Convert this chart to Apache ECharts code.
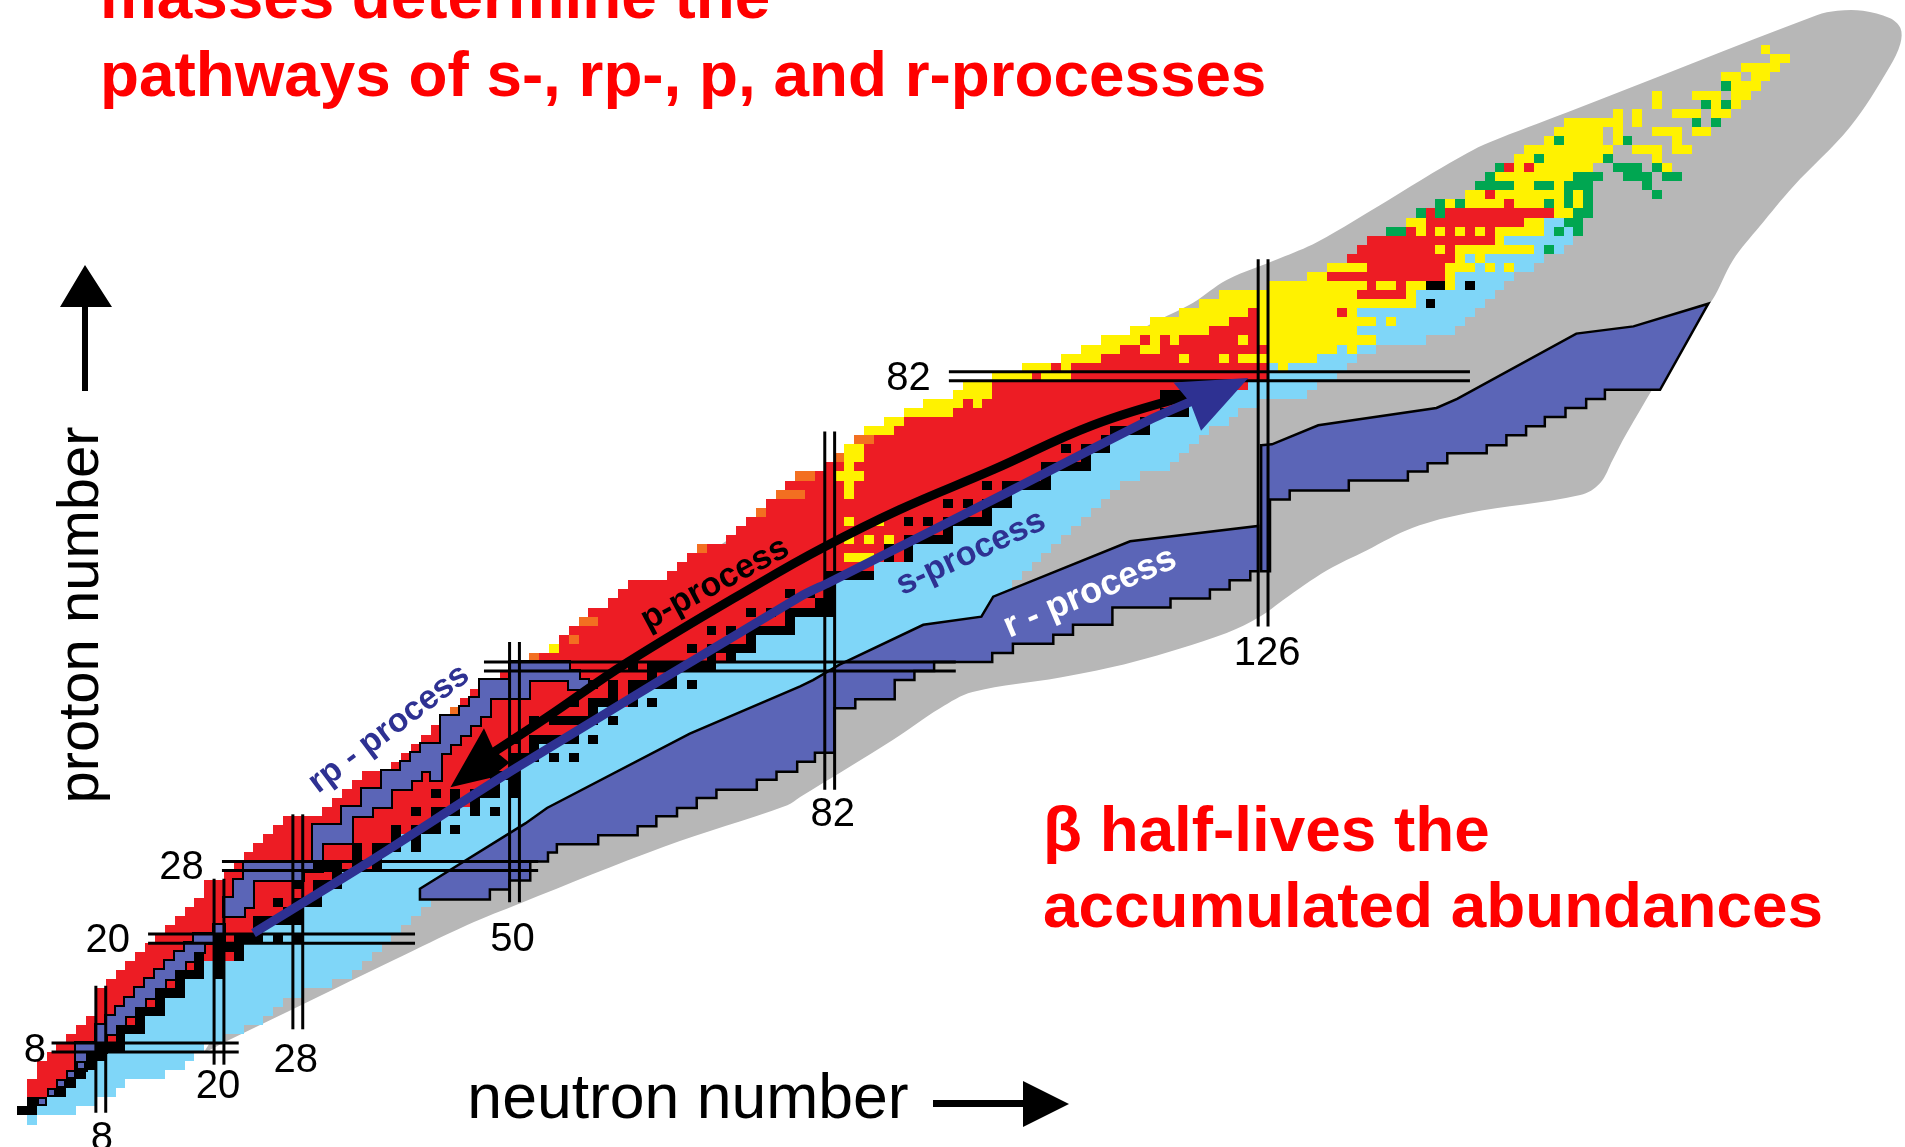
<!DOCTYPE html>
<html>
<head>
<meta charset="utf-8">
<script src="https://cdn.jsdelivr.net/npm/echarts@6/dist/echarts.min.js"></script>
<style>html,body{margin:0;padding:0;background:#fff;overflow:hidden}#c{width:1905px;height:1147px}</style>
</head>
<body>
<div id="c"></div>
<script>
// ---------- nuclide-chart data: every row is [Z, firstN, lastN] ----------
const redLeft = [null,null,null,1,1,2,2,3,4,5,
 6,7,8,8,8,9,10,11,12,13,
 14,15,16,17,18,19,19,21,22,23,
 24,25,26,27,31,32,33,34,35,38,
 39,40,41,42,43,45,45,46,47,49,
 50,53,55,55,56,59,58,60,61,62,
 66,67,68,70,72,73,74,76,76,80,
 78,81,82,84,84,87,86,88,90,92,
 95,96,99,102,106,108,110];
const redRight = [null,null,null,4,5,6,7,8,10,10,
 12,12,14,14,16,16,18,18,22,22,
 24,24,28,28,30,30,32,32,36,36,
 38,38,42,42,44,46,48,48,50,50,
 52,52,56,56,58,58,62,62,64,66,
 70,72,74,74,78,78,82,82,82,82,
 86,86,90,90,94,94,98,98,100,100,
 104,104,108,108,110,110,114,114,118,118,
 122,124,126,126,125,126,125];
const blueRight = [1,5,7,9,10,14,16,17,18,20,
 22,24,25,26,28,31,33,34,35,36,
 37,38,39,40,41,43,44,46,47,48,
 49,51,52,53,55,57,59,60,62,64,
 66,68,70,72,74,76,78,80,82,84,
 86,88,90,92,94,99,100,100,100,100,
 101,102,103,104,105,106,107,108,109,110,
 111,113,116,117,118,119,120,122,123,125];
const blueLow = [[0,1,1],[1,2,5],[2,3,7]];
const blueHigh = [[80,123,130],[81,125,131],[82,127,133],[83,127,127],[83,129,134],[84,132,135],[85,134,134],[85,136,137],
 [86,138,142],[87,136,145],[88,138,138],[88,140,146],[89,136,147],[90,142,148],[91,142,149],[92,146,146],[92,148,150],
 [93,146,151],[94,148,148],[94,150,150],[94,152,153],[95,147,147],[95,149,154],[96,154,154],[96,156,156],[97,151,157],
 [98,155,155],[98,157,157],[99,155,156]];
const redHigh = [[87,121,125],[88,123,125],[89,125,125],[89,134,134],[91,136,140],[92,137,137],[92,140,140],[93,133,144],
 [94,137,144],[95,135,145],[96,136,143],[96,145,145],[97,137,149],[98,141,141],[98,143,143],[98,145,145],[98,147,147],[98,149,149],
 [99,143,152],[100,143,143],[100,145,155],[101,151,151],[102,149,149],[105,151,151],[105,153,153]];
const orangeRows = [[45,44,44],[51,52,52],[53,56,56],[55,57,58],[63,69,69],[67,75,75],[69,77,79],[71,79,80],[73,83,83],[75,85,86]];
const yellowRows = [[52,54,54],[60,84,84],[62,84,86],[64,84,84],[64,86,86],[64,88,88],[66,84,84],[66,87,87],[69,84,84],[70,84,84],
 [71,83,85],[72,84,84],[73,84,85],[74,84,85],[76,86,88],[77,88,89],[78,90,94],[79,92,95],[79,97,97],[80,95,98],[81,96,98],
 [82,99,102],[82,104,106],[83,102,104],[83,106,106],[83,128,128],[84,106,109],[84,118,118],[84,122,122],[84,124,131],
 [85,108,111],[85,114,115],[85,127,133],[85,135,135],[86,110,113],[86,115,115],[86,117,117],[86,124,124],[86,126,137],
 [87,113,120],[87,126,135],[88,115,122],[88,126,137],[88,139,139],[89,118,124],[89,126,133],[89,135,135],
 [90,120,141],[91,122,135],[91,141,141],[92,127,136],[92,138,139],[92,141,142],[92,145,145],[93,131,132],[93,145,145],
 [94,133,136],[94,145,147],[94,149,149],[94,151,151],[95,146,146],[95,148,148],[96,144,144],[96,146,153],[97,150,150],
 [98,142,142],[98,144,144],[98,146,146],[98,148,148],[98,150,154],[99,141,142],[99,153,154],[100,156,157],
 [101,145,145],[101,147,150],[101,152,154],[101,156,156],[101,158,158],[102,147,148],[102,150,156],[102,158,158],
 [103,152,153],[103,156,156],[104,150,157],[105,152,152],[105,154,159],[105,167,167],[106,152,153],[106,155,160],[106,166,166],
 [107,153,161],[107,164,166],[107,168,169],[108,155,155],[108,157,160],[108,162,162],[108,168,168],
 [109,156,160],[109,162,162],[109,166,168],[109,170,171],[110,157,162],[110,164,164],[111,162,162],[111,164,164],[111,168,170],[111,172,173],
 [112,166,166],[112,172,172],[112,174,174],[113,166,166],[113,170,172],[113,174,175],[114,174,176],[115,173,174],[115,176,177],
 [116,175,178],[117,178,179],[118,177,177]];
const greenRows = [[96,155,155],[98,139,140],[98,156,156],[98,158,158],[99,157,158],[100,142,142],[100,144,144],[100,158,159],
 [101,144,144],[101,146,146],[101,155,155],[101,157,157],[101,159,159],[102,157,157],[102,159,159],[102,166,166],
 [103,148,151],[103,154,155],[103,157,159],[103,165,165],[104,149,149],[104,158,160],[104,163,165],[104,167,168],
 [105,150,150],[105,162,164],[105,166,166],[106,154,154],[106,161,161],[108,156,156],[108,163,163],[110,170,170],[110,172,172],
 [112,171,171],[112,173,173],[114,173,173]];
const rpRows = [[6,6,6],[7,6,6],[8,6,8],[9,8,8],[10,8,9],[11,9,10],[12,10,11],[13,11,12],[14,12,13],[15,13,14],[16,14,15],[17,15,16],
 [18,16,17],[19,17,18],[20,18,20],[21,20,20],[23,21,22],[24,21,23],[25,22,23],[26,22,23],[27,23,28],[28,23,30],[29,30,30],[30,30,30],
 [31,30,33],[32,30,33],[33,33,33],[34,33,35],[35,35,37],[36,35,37],[37,37,39],[38,37,40],[38,42,42],[39,39,42],[40,40,42],[41,41,43],
 [42,43,44],[43,43,45],[44,43,46],[45,45,47],[46,46,47],[47,47,51],[48,47,51],[48,56,57],[49,50,56],[50,50,55]];
const rpInnerCells = [[2,2,2],[3,3,3],[4,4,4],[5,5,5],[6,6,6]];
const stableByZ = {1:[0,1],2:[1,2],3:[3,4],4:[4,5],5:[5,6],6:[6,7],7:[7,8],8:[8,9,10],9:[10],10:[10,11,12],11:[12],12:[12,13,14],13:[14],
 14:[14,15,16],15:[16],16:[16,17,18,20],17:[18,20],18:[18,20,22],19:[20,21,22],20:[20,22,23,24,26,28],21:[24],22:[24,25,26,27,28],23:[27,28],
 24:[26,28,29,30],25:[30],26:[28,30,31,32],27:[32],28:[30,31,32,34,36],29:[34,36],30:[34,36,37,38,40],31:[38,40],32:[38,40,41,42,44],33:[42],
 34:[40,42,43,44,46,48],35:[44,46],36:[42,44,46,47,48,50],37:[48,50],38:[46,48,49,50],39:[50],40:[50,51,52,54,56],41:[52],42:[50,52,53,54,55,56,58],
 44:[52,54,55,56,57,58,60],45:[58],46:[56,58,59,60,62,64],47:[60,62],48:[58,60,62,63,64,65,66,68],49:[64,66],50:[62,64,65,66,67,68,69,70],51:[70,72],
 52:[68,70,71,72,73,74],53:[74],54:[70,72,74,75,76,77,78],55:[78],56:[74,76,78,79,80,81,82],57:[81,82],58:[78,80,82],59:[82],60:[82,83,84,85,86],
 62:[88,90],63:[88,90],64:[90,91,92,93,94],65:[94],66:[90,92,94,95,96,97,98],67:[98],68:[94,96,98,99,100],69:[100],70:[98,100,101,102,103,104],
 71:[104],72:[104,105,106,107,108],73:[108],74:[106,108,109,110],75:[110],76:[111,112,113,114],77:[114],78:[116,117,118],79:[118],80:[116,117,118],
 90:[143],92:[143,144,147]};

// ---------- outlines in (neutron number, proton number) ----------
const grayOutline = [[18.6,7.7],[28.2,22],[38,36],[47,44.5],[65.6,59.5],[94.4,79.2],[109,84.3],[114.5,87.7],[118.9,90.1],[122.3,92.6],[127.7,95],
 [131.5,96.8],[138.7,101.4],[143.2,104.4],[146.7,106.6],[149,107.8],[156.9,111.1],[182.2,121.8],[184.3,122.3],[186.9,122.3],
 [189.6,121.5],[190.7,120.4],[190.7,118.7],[189.6,116.1],[185.6,109.5],[179.8,102.9],[176.4,98.5],[173.7,94.8],[171.6,90.4],[168.6,86],
 [162.9,75.7],[161.5,72.8],[160.2,70.2],[158.2,68.9],[146.7,66.9],[141.2,65.3],[136.5,62.8],[132.5,60.6],[128,57.3],[125.7,55.5],[122.3,53.7],
 [112.8,50.5],[105.4,48.8],[96.5,47.2],[93.2,45.4],[88.4,41.9],[79,35.6],[77.7,34.7],[65.1,30.1],[50.6,23.9],[45.2,21.5],[37.7,17.6],[20.6,8.6]];
const rProcessLower = [[40.4,25.5],[51.1,32.7],[53.3,34.4],[67.8,42.6],[79,47.8],[80.3,48.5],[83,50.2],[91.5,54.6],[97.4,55.5],[98.6,57.7],[112.5,63.8],[125.5,65.5],
 [125.5,60.5],[124.7,60.5],[124.7,59.5],[122.6,59.5],[122.6,58.5],[120.6,58.5],[120.6,57.5],[116.6,57.5],[116.6,56.5],[110.7,56.5],[110.7,54.6],[106.7,54.6],
 [106.7,53.5],[104.7,53.5],[104.7,52.5],[100.6,52.5],[100.6,51.5],[98.5,51.5],[98.5,50.5],[92.6,50.5],[92.6,49.5],[90.6,49.5],[90.6,48.5],[88.6,48.5],
 [88.6,46.4],[84.6,46.4],[84.6,45.4],[82.5,45.4],[82.5,40.5],[80.5,40.5],[80.5,39.5],[78.7,39.5],[78.7,38.4],[76.6,38.4],[76.6,37.5],[74.6,37.5],[74.6,36.4],
 [70.5,36.4],[70.5,35.5],[68.5,35.5],[68.5,34.4],[66.5,34.4],[66.5,33.5],[64.4,33.5],[64.4,32.4],[62.5,32.4],[62.5,31.4],[58.5,31.4],[58.5,30.4],[54.3,30.4],
 [54.3,29.5],[53.4,29.5],[53.4,28.5],[51.6,28.5],[51.6,26.4],[49.5,26.4],[49.5,25.4],[47.5,25.4],[47.5,24.3],[40.4,24.3]];
const rProcessUpper = [[125.8,74.4],[126.9,74.5],[131.6,76.6],[143.6,78.5],[145.7,79.5],[157.8,86.7],[163.6,87.5],[171.2,90],[166.3,80.5],[160.7,80.5],[160.7,79.5],
 [158.8,79.5],[158.8,78.5],[156.7,78.5],[156.7,77.5],[154.6,77.5],[154.6,76.5],[152.7,76.5],[152.7,75.5],[150.7,75.5],[150.7,74.4],[148.7,74.4],[148.7,73.5],
 [144.7,73.5],[144.7,72.4],[142.7,72.4],[142.7,71.5],[140.7,71.5],[140.7,70.5],[134.7,70.5],[134.7,69.4],[128.7,69.4],[128.7,68.4],[126.7,68.4],[126.7,60.5],[125.8,60.5]];
const pPath = [[117.9,79.7],[108.7,76.6],[98.6,71.7],[89.1,67.3],[81.3,63.1],[74.9,59.2],[61.4,50.4],[53.3,44.4],[47.8,40.5]];
const pHead = [[43.5,36.7],[46.9,43.2],[47.9,40.8],[49.5,39.4],[47.5,37.7]];
const sPath = [[23.5,20.6],[35,28.3],[50.3,38.9],[79,57.7],[82,59.3],[100.6,69.5],[114.5,77.2],[119.1,79.4]];
const sHead = [[116.9,81.3],[124.5,81.8],[119.7,76],[118.6,79.1]];

// ---------- magic numbers ----------
const magicN = [[8,0.8,14.8],[20,6.1,26.6],[28,10,33.7],[50,24,52.7],[82,36.4,75.9],[126,54.4,94.9]];
const magicZ = [[8,3,22],[20,12.8,39.9],[28,20.3,52.4],[50,46.9,94.8],[82,94.1,147]];
const magicLabels = [['8',1.3,7.6],['20',8.7,19.75],['28',16.2,27.8],['8',8.1,-2.05],['20',19.9,3.65],['28',27.8,6.55],['50',49.8,19.85],['82',82.3,33.65],['82',90,81.65],['126',126.4,51.35]];

const C = {gray:'#b7b7b7',blue:'#7fd6f8',red:'#ed1c24',yellow:'#fff200',green:'#00a651',orange:'#f36f21',rp:'#5b65b7',navy:'#2e3192',black:'#000'};

const blueRows = blueLow.slice();
for (let z=3;z<blueRight.length;z++) blueRows.push([z,redRight[z]+1,blueRight[z]]);
blueHigh.forEach(r=>blueRows.push(r));
const redRows = [];
for (let z=3;z<redLeft.length;z++) redRows.push([z,redLeft[z],redRight[z]]);
redHigh.forEach(r=>redRows.push(r));
const stableRows = [];
Object.keys(stableByZ).forEach(z=>stableByZ[z].forEach(n=>stableRows.push([+z,n,n])));

let order = 1;
function cells(name, rows, color, grow){
  return {type:'custom',name,coordinateSystem:'cartesian2d',z:order++,silent:true,clip:false,animation:false,
    dimensions:['Z','N1','N2'],encode:{x:1,y:0},data:rows,
    renderItem(p,api){
      const a=api.coord([api.value(1)-0.5,api.value(0)+0.5]), b=api.coord([api.value(2)+0.5,api.value(0)-0.5]);
      const x=Math.round(a[0])-grow, y=Math.round(a[1])-grow, x2=Math.round(b[0])+grow, y2=Math.round(b[1])+grow;
      return {type:'rect',shape:{x,y,width:x2-x,height:y2-y},style:{fill:color}};
    }};
}
function shape(name, pts, kind, st, smooth){
  return {type:'custom',name,coordinateSystem:'cartesian2d',z:order++,silent:true,clip:false,animation:false,
    dimensions:['N','Z'],encode:{x:0,y:1},data:pts,
    renderItem(p,api){
      if(p.dataIndex!==0) return null;
      return {type:kind,shape:{points:pts.map(q=>api.coord(q)),smooth:smooth||0},style:st};
    }};
}
function magicLines(name, list, vertical){
  const rows=[]; list.forEach(m=>{rows.push([m[0]-0.5,m[1],m[2]]);rows.push([m[0]+0.5,m[1],m[2]]);});
  return {type:'custom',name,coordinateSystem:'cartesian2d',z:order++,silent:true,clip:false,animation:false,
    dimensions:['m','a','b'],encode:vertical?{x:0,y:1}:{x:1,y:0},data:rows,
    renderItem(p,api){
      const m=api.value(0),a=api.value(1),b=api.value(2);
      const s=api.coord(vertical?[m,a]:[a,m]), e=api.coord(vertical?[m,b]:[b,m]);
      return {type:'line',shape:{x1:s[0],y1:s[1],x2:e[0],y2:e[1]},style:{stroke:'#000',lineWidth:3,fill:null}};
    }};
}
const labelSeries = {type:'custom',name:'magic labels',coordinateSystem:'cartesian2d',z:200,silent:true,clip:false,animation:false,
  dimensions:['N','Z'],encode:{x:0,y:1},data:magicLabels.map(l=>[l[1],l[2]]),
  renderItem(p,api){
    const c=api.coord([api.value(0),api.value(1)]);
    return {type:'text',style:{text:magicLabels[p.dataIndex][0],x:c[0],y:c[1],fill:'#000',font:'40px "Liberation Sans"',textAlign:'center',textVerticalAlign:'middle'}};
  }};

const F='"Liberation Sans"';
function t(text,x,y,font,fill,rot,align){
  return {type:'text',x,y,rotation:rot||0,z:300,silent:true,style:{text,fill,font,textAlign:align||'center',textVerticalAlign:'middle'}};
}
const deg=Math.PI/180;
const notes=[
 t('masses determine the',100,0,'bold 63.8px '+F,'#ff0000',0,'left'),
 t('pathways of s-, rp-, p, and r-processes',100,78,'bold 63.8px '+F,'#ff0000',0,'left'),
 t('β half-lives the',1043,833,'bold 63.8px '+F,'#ff0000',0,'left'),
 t('accumulated abundances',1043,909,'bold 63.8px '+F,'#ff0000',0,'left'),
 t('proton number',82,615,'58px '+F,'#000',90*deg),
 t('neutron number',688,1101,'62.5px '+F,'#000'),
 t('rp - process',389,729,'bold 33.5px '+F,C.navy,37*deg),
 t('p-process',715,584,'bold 34px '+F,'#000',28*deg),
 t('s-process',971,553,'bold 34px '+F,C.navy,25*deg),
 t('r - process',1090,593,'bold 36px '+F,'#fff',23*deg),
 {type:'polygon',z:300,silent:true,shape:{points:[[85,265],[112,307],[88,307],[88,391],[82,391],[82,307],[60,307]]},style:{fill:'#000'}},
 {type:'polygon',z:300,silent:true,shape:{points:[[1069,1104],[1023,1081],[1023,1100],[933,1100],[933,1107],[1023,1107],[1023,1127]]},style:{fill:'#000'}}
];

const option = {
  backgroundColor:'#fff',animation:false,tooltip:{show:false},
  grid:{left:0,top:0,width:1905,height:1147,containLabel:false},
  xAxis:{type:'value',min:-2.2335,max:191.1675,show:false,splitLine:{show:false}},
  yAxis:{type:'value',min:-2.977,max:123.484,show:false,splitLine:{show:false}},
  graphic:{elements:notes},
  series:[
    shape('stability limits',grayOutline,'polygon',{fill:C.gray},0.35),
    cells('neutron rich',blueRows,C.blue,0),
    cells('proton rich',redRows,C.red,0),
    cells('orange',orangeRows,C.orange,0),
    cells('alpha',yellowRows,C.yellow,0),
    cells('fission',greenRows,C.green,0),
    cells('rp outline',rpRows,'#000',2),
    cells('rp band',rpRows,C.rp,0),
    cells('stable',stableRows,'#000',0),
    cells('rp cells',rpInnerCells,C.rp,-2),
    shape('r-process lower',rProcessLower,'polygon',{fill:C.rp,stroke:'#000',lineWidth:2.5,lineJoin:'miter'}),
    shape('r-process upper',rProcessUpper,'polygon',{fill:C.rp,stroke:'#000',lineWidth:2.5,lineJoin:'miter'}),
    magicLines('magic N',magicN,true),
    magicLines('magic Z',magicZ,false),
    shape('p path',pPath,'polyline',{stroke:'#000',lineWidth:9,fill:null},0.4),
    shape('p head',pHead,'polygon',{fill:'#000'}),
    shape('s path',sPath,'polyline',{stroke:C.navy,lineWidth:9,fill:null},0.3),
    shape('s head',sHead,'polygon',{fill:C.navy}),
    labelSeries
  ]
};
echarts.init(document.getElementById('c'),null,{renderer:'canvas'}).setOption(option);
</script>
</body>
</html>
